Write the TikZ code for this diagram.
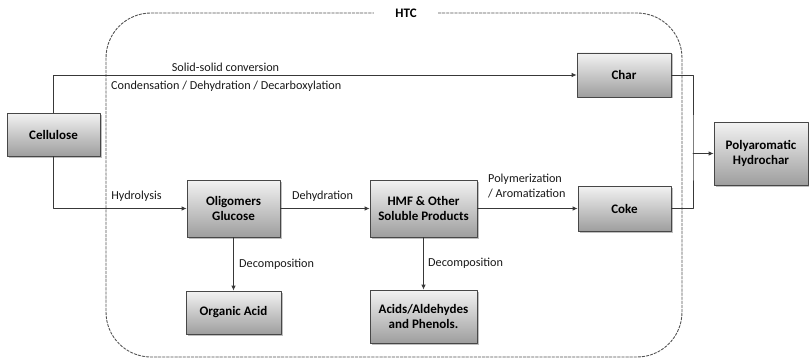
\documentclass[tikz,border=0pt]{standalone}
\usepackage{fontspec}
\setmainfont{Carlito}
\usetikzlibrary{arrows.meta,shadows}
\begin{document}
\begin{tikzpicture}[x=1pt, y=-1pt, line cap=round, line join=round]
% HTC flow sheet, coordinates in pixels of the sheet
\providecommand{\htcLineColor}{black!78}
\providecommand{\htcFrameColor}{black!68}
\providecommand{\htcLineWidth}{0.8pt}
\tikzset{
  procbox/.style={draw=black!72, line width=\htcLineWidth, top color=black!5, bottom color=black!38,
    drop shadow={shadow xshift=1.5pt, shadow yshift=-1.5pt, opacity=0.5},
    align=center, inner sep=2pt, font=\fontsize{13}{15.5}\selectfont\bfseries},
  steplabel/.style={inner sep=0pt, text=black!90, font=\fontsize{12.2}{15}\selectfont},
  flow/.style={draw=\htcLineColor, line width=\htcLineWidth, -{Latex[length=5pt,width=4.5pt]}},
}
\useasboundingbox (0,0) rectangle (809,361);
% Dashed HTC frame with gap for its title
\draw[\htcFrameColor, line width=0.9pt, dash pattern=on 2.5pt off 1.6pt, rounded corners=45pt]
  (106,13) rectangle (682,357);
\node[fill=white, inner xsep=21pt, inner ysep=3pt, font=\fontsize{13}{15}\selectfont\bfseries] (htc) at (406,13) {HTC};
% Boxes
\node[procbox, minimum width=93pt, minimum height=43pt] (cellulose) at (53.5,134.5) {Cellulose};
\node[procbox, minimum width=94pt, minimum height=44pt] (char) at (624,75) {Char};
\node[procbox, minimum width=93pt, minimum height=57pt] (oligo) at (233.5,208.5) {Oligomers\\Glucose};
\node[procbox, minimum width=107pt, minimum height=57pt] (hmf) at (423.5,208.5) {HMF \& Other\\Soluble Products};
\node[procbox, minimum width=93pt, minimum height=45pt] (coke) at (624.5,208.5) {Coke};
\node[procbox, minimum width=95pt, minimum height=43pt] (organic) at (233.5,312.5) {Organic Acid};
\node[procbox, minimum width=107pt, minimum height=53pt] (acids) at (423.5,316.5) {Acids/Aldehydes\\and Phenols.};
\node[procbox, minimum width=94pt, minimum height=63pt] (poly) at (761,153.5) {Polyaromatic\\Hydrochar};
% Connectors
\draw[flow] (cellulose.north) |- (char.west);
\draw[flow] (cellulose.south) |- (oligo.west);
\draw[flow] (oligo.east) -- (hmf.west);
\draw[flow] (hmf.east) -- (coke.west);
\draw[flow] (oligo.south) -- (organic.north);
\draw[flow] (hmf.south) -- (acids.north);
\coordinate (join) at (693,153.5);
\draw[draw=\htcLineColor, line width=\htcLineWidth] (char.east) -| (join) |- (coke.east);
\draw[flow] (join) -- (poly.west);
% Step labels
\node[steplabel] (solid) at (225.5,67) {Solid-solid conversion};
\node[steplabel, anchor=west] (conden) at (111,86) {Condensation / Dehydration / Decarboxylation};
\node[steplabel] (hydro) at (136.5,196) {Hydrolysis};
\node[steplabel] (dehyd) at (322.5,196) {Dehydration};
\node[steplabel, anchor=west, align=left] (polym) at (488,186) {Polymerization\\/ Aromatization};
\node[steplabel, anchor=west] (decompA) at (239,264) {Decomposition};
\node[steplabel, anchor=west] (decompB) at (428,263) {Decomposition};
\end{tikzpicture}
\end{document}
